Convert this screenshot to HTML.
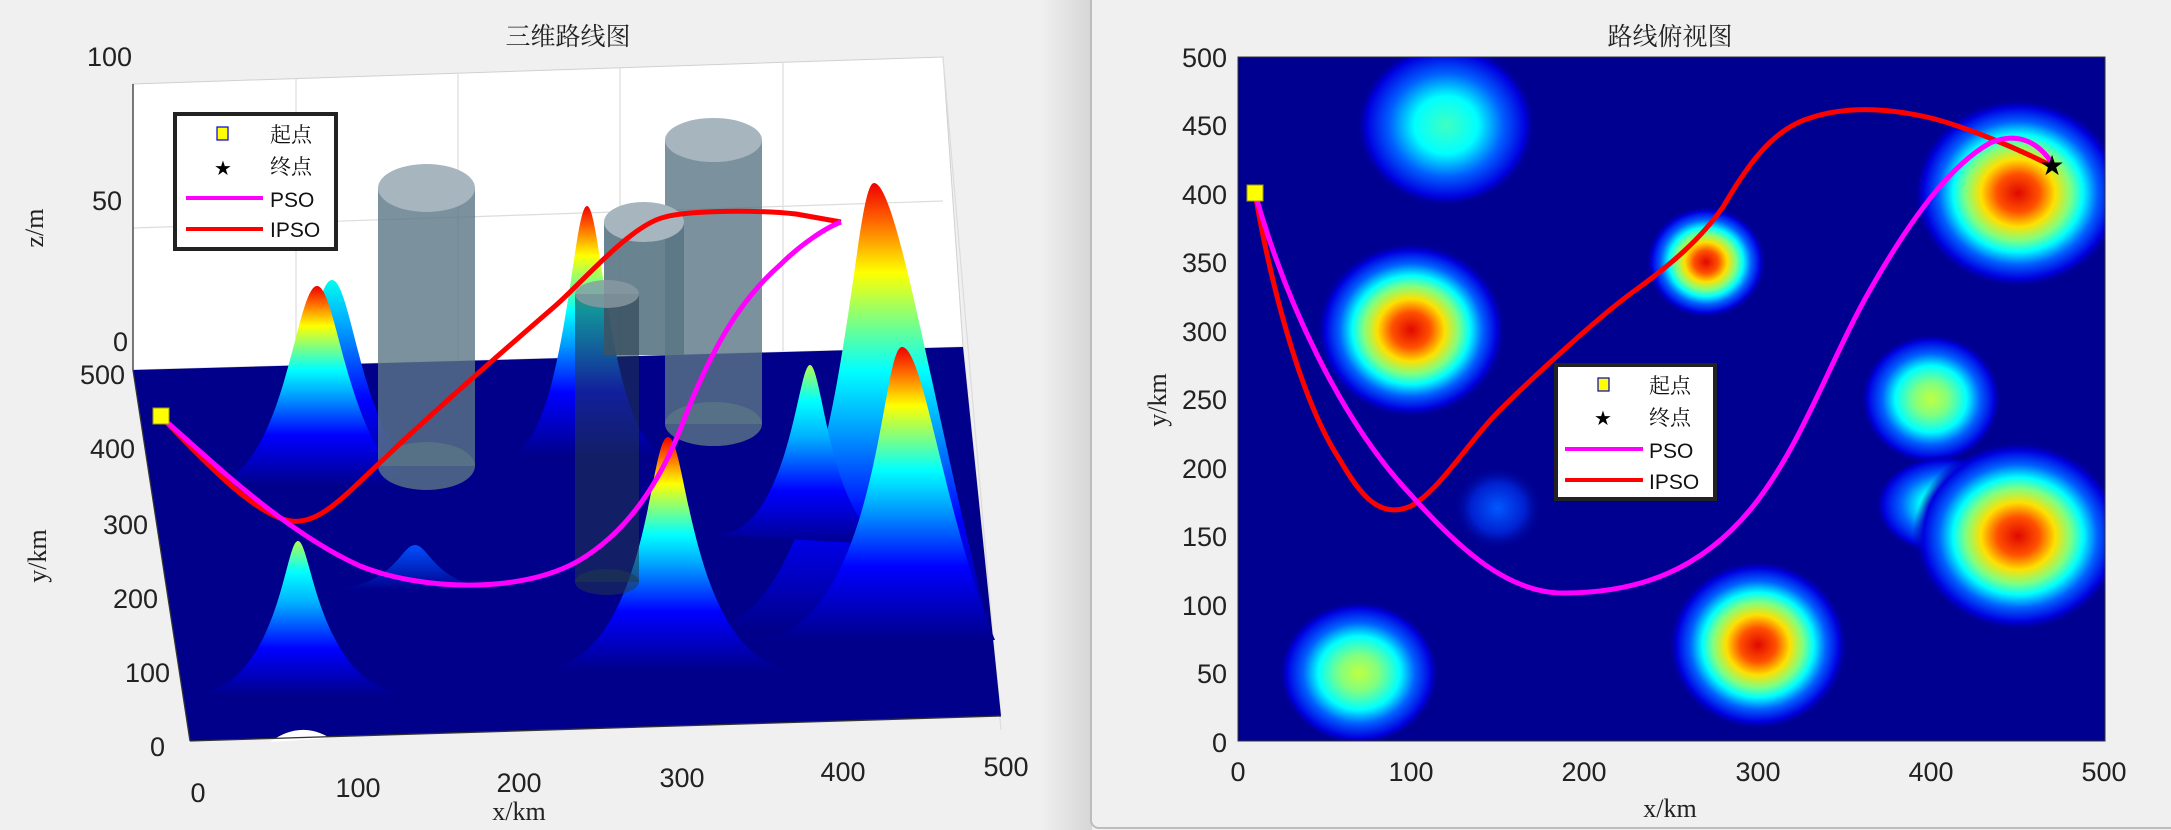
<!DOCTYPE html>
<html><head><meta charset="utf-8"><style>
html,body{margin:0;padding:0;background:#f0f0f0;}
svg{display:block}
</style></head><body>
<svg width="2171" height="830" xmlns="http://www.w3.org/2000/svg" font-family="Liberation Sans, sans-serif">
<defs>
<linearGradient id="sep" x1="0" x2="1" y1="0" y2="0">
<stop offset="0" stop-color="#f0f0f0"/><stop offset="1" stop-color="#d6d6d6"/></linearGradient>
<linearGradient id="jr" x1="0" y1="1" x2="0" y2="0">
<stop offset="0" stop-color="#00008b"/><stop offset="0.25" stop-color="#0000ff"/><stop offset="0.45" stop-color="#00a0ff"/><stop offset="0.58" stop-color="#00ffff"/><stop offset="0.72" stop-color="#a0ff60"/><stop offset="0.8" stop-color="#ffff00"/><stop offset="0.92" stop-color="#ff6000"/><stop offset="1" stop-color="#ee0000"/></linearGradient>
<linearGradient id="jy" x1="0" y1="1" x2="0" y2="0">
<stop offset="0" stop-color="#00008b"/><stop offset="0.3" stop-color="#0000ff"/><stop offset="0.6" stop-color="#00b0ff"/><stop offset="0.8" stop-color="#00ffff"/><stop offset="1" stop-color="#b0ff50"/></linearGradient>
<linearGradient id="jc" x1="0" y1="1" x2="0" y2="0">
<stop offset="0" stop-color="#00008b"/><stop offset="0.4" stop-color="#0000ff"/><stop offset="0.8" stop-color="#00b0ff"/><stop offset="1" stop-color="#00ffee"/></linearGradient>
<linearGradient id="jb" x1="0" y1="1" x2="0" y2="0">
<stop offset="0" stop-color="#00008b"/><stop offset="1" stop-color="#0050ff"/></linearGradient>
<radialGradient id="gR">
<stop offset="0" stop-color="#e00800"/><stop offset="0.2" stop-color="#ff5000"/><stop offset="0.354" stop-color="#ffe000"/><stop offset="0.5" stop-color="#80ff80"/><stop offset="0.618" stop-color="#00ffff"/><stop offset="0.755" stop-color="#0060ff"/><stop offset="0.9" stop-color="#0000e0"/><stop offset="1" stop-color="#000090" stop-opacity="0"/></radialGradient>
<radialGradient id="gY">
<stop offset="0" stop-color="#c0ff40"/><stop offset="0.25" stop-color="#80ff80"/><stop offset="0.51" stop-color="#00ffff"/><stop offset="0.7" stop-color="#0060ff"/><stop offset="0.9" stop-color="#0000e0"/><stop offset="1" stop-color="#000090" stop-opacity="0"/></radialGradient>
<radialGradient id="gC">
<stop offset="0" stop-color="#40ffc0"/><stop offset="0.35" stop-color="#00ffff"/><stop offset="0.63" stop-color="#0060ff"/><stop offset="0.88" stop-color="#0000e0"/><stop offset="1" stop-color="#000090" stop-opacity="0"/></radialGradient>
<radialGradient id="gB">
<stop offset="0" stop-color="#0058ff"/><stop offset="0.6" stop-color="#0020d0"/><stop offset="1" stop-color="#000090" stop-opacity="0"/></radialGradient>
<clipPath id="gclip"><polygon points="0,0 1040,0 1040,830 0,830"/></clipPath>
</defs>

<rect x="1040" y="0" width="52" height="830" fill="url(#sep)"/>
<rect x="1091" y="-10" width="1100" height="838" rx="8" fill="#f0f0f0" stroke="#bdbdbd" stroke-width="2"/>

<!-- ============ LEFT 3D ============ -->
<text x="568" y="45" font-size="25" text-anchor="middle" font-family="Liberation Serif, Noto Serif CJK SC, serif" fill="#222">三维路线图</text>
<polygon points="133,84 943,57 963,347 133,370" fill="#fff" stroke="#d0d0d0"/>
<g stroke="#dcdcdc" stroke-width="1.2">
<line x1="133" y1="228" x2="943" y2="201"/>
<line x1="296" y1="79" x2="296" y2="365"/><line x1="458" y1="73" x2="458" y2="360"/>
<line x1="620" y1="68" x2="620" y2="356"/><line x1="783" y1="62" x2="783" y2="351"/>
<line x1="943" y1="57" x2="1001" y2="730"/><line x1="963" y1="347" x2="1001" y2="716"/>
</g>
<line x1="133" y1="84" x2="133" y2="370" stroke="#333" stroke-width="1.3"/>
<g font-size="27" fill="#222" text-anchor="end">
<text x="132" y="66">100</text><text x="122" y="210">50</text><text x="128" y="351">0</text>
<text x="125" y="384">500</text><text x="135" y="458">400</text><text x="148" y="534">300</text>
<text x="158" y="608">200</text><text x="170" y="682">100</text><text x="165" y="756">0</text>
</g>
<g font-size="27" fill="#222" text-anchor="middle">
<text x="198" y="802">0</text><text x="358" y="797">100</text><text x="519" y="792">200</text>
<text x="682" y="787">300</text><text x="843" y="781">400</text><text x="1006" y="776">500</text>
</g>
<g font-size="26" fill="#222" font-family="Liberation Serif, serif">
<text x="519" y="820" text-anchor="middle">x/km</text>
<text transform="translate(46,556) rotate(-90)" text-anchor="middle">y/km</text>
<text transform="translate(43,228) rotate(-90)" text-anchor="middle">z/m</text>
</g>
<polygon points="133,370 963,347 1001,716 190,741" fill="#00008b"/>
<path d="M270,742 Q300,720 330,738 Z" fill="#fff"/>
<line x1="133" y1="370" x2="190" y2="741" stroke="#333" stroke-width="1.3"/>
<line x1="190" y1="741" x2="1001" y2="716" stroke="#333" stroke-width="1.3"/>
<!-- peaks back -->
<path d="M230,480 C300,480 310,280 332,280 C354,280 365,480 440,480 Z" fill="url(#jc)"/>
<path d="M205,485 C285,485 295,286 317,286 C339,286 350,485 430,485 Z" fill="url(#jr)"/>
<path d="M505,455 C565,455 572,206 587,206 C602,206 610,455 670,455 Z" fill="url(#jr)"/>
<path d="M700,630 C845,630 850,183 874,183 C898,183 935,420 990,630 Z" fill="url(#jr)"/>
<path d="M715,535 C790,535 797,365 810,365 C823,365 830,535 895,545 Z" fill="url(#jy)"/>
<path d="M750,640 C880,640 880,347 902,347 C924,347 945,520 995,640 Z" fill="url(#jr)"/>
<!-- cylinders -->
<g fill="#5a7585" fill-opacity="0.8">
<rect x="378" y="188" width="97" height="278"/><ellipse cx="426.5" cy="466" rx="48.5" ry="24"/>
<rect x="665" y="140" width="97" height="284"/><ellipse cx="713.5" cy="424" rx="48.5" ry="22"/>
<rect x="604" y="222" width="80" height="133" fill-opacity="0.9"/>
</g>
<g fill="#a6b5be"><ellipse cx="426.5" cy="188" rx="48.5" ry="24"/><ellipse cx="713.5" cy="140" rx="48.5" ry="22"/><ellipse cx="644" cy="222" rx="40" ry="20"/></g>
<!-- front peaks -->
<path d="M320,590 C395,590 400,545 415,545 C430,545 435,590 510,590 Z" fill="url(#jb)"/>
<path d="M535,670 C650,670 648,437 668,437 C688,437 690,670 800,670 Z" fill="url(#jr)"/>
<path d="M185,695 C280,695 284,541 298,541 C312,541 318,695 415,695 Z" fill="url(#jy)"/>
<g fill="#203848" fill-opacity="0.55"><rect x="575" y="294" width="64" height="288"/><ellipse cx="607" cy="582" rx="32" ry="13"/></g>
<ellipse cx="607" cy="294" rx="32" ry="14" fill="#8a9aa2" fill-opacity="0.8"/>
<!-- paths -->
<path d="M161,417 C185,440 250,515 291,521 C320,525 345,495 388,455 C430,415 510,345 554,307 C580,285 630,225 665,217 C690,210 760,210 796,214 L841,222" fill="none" stroke="#ff0000" stroke-width="5" stroke-linejoin="round"/>
<path d="M161,417 C200,450 280,530 360,566 C420,590 520,595 580,560 C630,530 660,480 680,430 C710,350 740,300 780,265 C800,245 825,228 841,222" fill="none" stroke="#ff00ff" stroke-width="5" stroke-linejoin="round"/>
<rect x="153" y="408" width="16" height="16" fill="#ffff00" stroke="#a0a000"/>
<!-- legend left -->
<rect x="175" y="114" width="161" height="135" fill="#fff" stroke="#222" stroke-width="4"/>
<rect x="217" y="127" width="11" height="13" fill="#ffff00" stroke="#0000cc" stroke-width="1.2"/>
<text x="223" y="175" font-size="20" text-anchor="middle">★</text>
<line x1="186" y1="198" x2="263" y2="198" stroke="#ff00ff" stroke-width="4"/>
<line x1="186" y1="229" x2="263" y2="229" stroke="#ff0000" stroke-width="4"/>
<g font-size="21" fill="#111"><text x="270" y="142" font-family="Noto Serif CJK SC, serif">起点</text><text x="270" y="174" font-family="Noto Serif CJK SC, serif">终点</text><text x="270" y="207">PSO</text><text x="270" y="237">IPSO</text></g>

<!-- ============ RIGHT 2D ============ -->
<text x="1670" y="45" font-size="25" text-anchor="middle" font-family="Liberation Serif, Noto Serif CJK SC, serif" fill="#222">路线俯视图</text>
<svg x="1238" y="57" width="867" height="684" viewBox="1238 57 867 684">
<rect x="1238" y="57" width="867" height="684" fill="#000090"/>
<ellipse cx="1446" cy="125" rx="90" ry="82" fill="url(#gC)"/>
<ellipse cx="1498" cy="508" rx="45" ry="42" fill="url(#gB)"/>
<ellipse cx="1411" cy="330" rx="95" ry="88" fill="url(#gR)"/>
<ellipse cx="1706" cy="262" rx="60" ry="56" fill="url(#gR)"/>
<ellipse cx="1931" cy="399" rx="70" ry="65" fill="url(#gY)"/>
<ellipse cx="1945" cy="505" rx="70" ry="50" fill="url(#gC)"/>
<ellipse cx="2018" cy="536" rx="105" ry="95" fill="url(#gR)"/>
<ellipse cx="2018" cy="193" rx="105" ry="95" fill="url(#gR)"/>
<ellipse cx="1758" cy="645" rx="90" ry="85" fill="url(#gR)"/>
<ellipse cx="1359" cy="673" rx="80" ry="72" fill="url(#gY)"/>
<path d="M1255,193 C1270,280 1300,400 1340,460 C1360,495 1380,520 1411,506 C1440,490 1470,440 1498,412 C1530,380 1600,315 1637,289 C1670,265 1700,240 1723,207 C1745,170 1770,130 1810,118 C1840,108 1880,106 1931,118 C1970,128 2020,150 2052,166" fill="none" stroke="#ff0000" stroke-width="5" stroke-linejoin="round"/>
<path d="M1255,193 C1285,300 1340,420 1411,495 C1460,550 1510,595 1567,593 C1640,592 1700,570 1750,510 C1800,450 1830,360 1870,290 C1910,220 1950,165 1990,143 C2020,130 2040,145 2052,163" fill="none" stroke="#ff00ff" stroke-width="5" stroke-linejoin="round"/>
<rect x="1247" y="185" width="16" height="16" fill="#ffff00" stroke="#a0a000"/>
<text x="2052" y="175" font-size="28" text-anchor="middle">★</text>
</svg>
<rect x="1238" y="57" width="867" height="684" fill="none" stroke="#333" stroke-width="1"/>
<g font-size="27" fill="#222" text-anchor="end">
<text x="1227" y="67">500</text><text x="1227" y="135">450</text><text x="1227" y="204">400</text>
<text x="1227" y="272">350</text><text x="1227" y="341">300</text><text x="1227" y="409">250</text>
<text x="1227" y="478">200</text><text x="1227" y="546">150</text><text x="1227" y="615">100</text>
<text x="1227" y="683">50</text><text x="1227" y="752">0</text>
</g>
<g font-size="27" fill="#222" text-anchor="middle">
<text x="1238" y="781">0</text><text x="1411" y="781">100</text><text x="1584" y="781">200</text>
<text x="1758" y="781">300</text><text x="1931" y="781">400</text><text x="2104" y="781">500</text>
</g>
<g font-size="26" fill="#222" font-family="Liberation Serif, serif">
<text x="1670" y="817" text-anchor="middle">x/km</text>
<text transform="translate(1166,400) rotate(-90)" text-anchor="middle">y/km</text>
</g>
<rect x="1556" y="365" width="159" height="134" fill="#fff" stroke="#222" stroke-width="4"/>
<rect x="1598" y="378" width="11" height="13" fill="#ffff00" stroke="#0000cc" stroke-width="1.2"/>
<text x="1603" y="425" font-size="20" text-anchor="middle">★</text>
<line x1="1565" y1="449" x2="1643" y2="449" stroke="#ff00ff" stroke-width="4"/>
<line x1="1565" y1="480" x2="1643" y2="480" stroke="#ff0000" stroke-width="4"/>
<g font-size="21" fill="#111"><text x="1649" y="393" font-family="Noto Serif CJK SC, serif">起点</text><text x="1649" y="425" font-family="Noto Serif CJK SC, serif">终点</text><text x="1649" y="458">PSO</text><text x="1649" y="489">IPSO</text></g>
</svg>
</body></html>
